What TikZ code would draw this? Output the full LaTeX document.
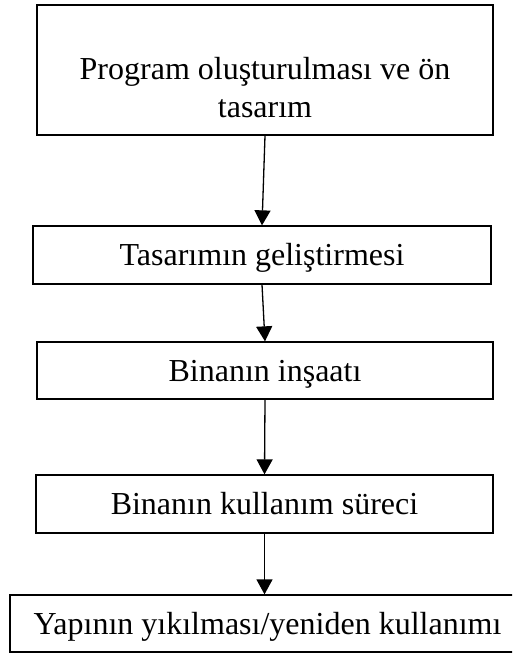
\documentclass[tikz,border=0pt]{standalone}
\usepackage{fontspec}
\setmainfont{Liberation Serif}
\usetikzlibrary{arrows.meta}
\begin{document}
\begin{tikzpicture}[x=1pt,y=-1pt,
  stage/.style={draw=black,line width=1.3pt,inner sep=0pt,align=center,
    text height=24pt,text depth=3pt,
    font=\fontsize{32}{38}\selectfont},
  caption/.style={inner sep=0pt,align=center,font=\fontsize{32}{38}\selectfont},
  flow/.style={line width=1.3pt,-{Triangle[width=16pt,length=15pt]}}]
  \useasboundingbox (0,0) rectangle (512,653);
  \clip (0,0) rectangle (512,653);
  \fill[white] (0,0) rectangle (512,653);

  % first stage: a tall box with a two-line caption
  \node[draw=black,line width=1.3pt,minimum width=456pt,minimum height=130pt]
    (s1) at (265,70) {};
  \node[caption,yshift=-18pt] (s1text) at (s1.center)
    {Program oluşturulması ve ön\\tasarım};

  \node[stage,minimum width=458pt,minimum height=58pt] (s2) at (262,255)
    {Tasarımın geliştirmesi};
  \node[stage,minimum width=456pt,minimum height=57pt] (s3) at (265,370.5)
    {Binanın inşaatı};
  \node[stage,minimum width=457pt,minimum height=58pt] (s4) at (264.5,504)
    {Binanın kullanım süreci};
  \node[stage,minimum width=515pt,minimum height=57pt] (s5) at (267.5,623.5)
    {Yapının yıkılması/yeniden kullanımı};

  \draw[flow] (s1.south) -- (s2.north);
  \draw[flow] (s2.south) -- (s3.north);
  \draw[flow] (s3.south) -- (s4.north);
  \draw[flow] (s4.south) -- (s4.south |- s5.north);
\end{tikzpicture}
\end{document}
